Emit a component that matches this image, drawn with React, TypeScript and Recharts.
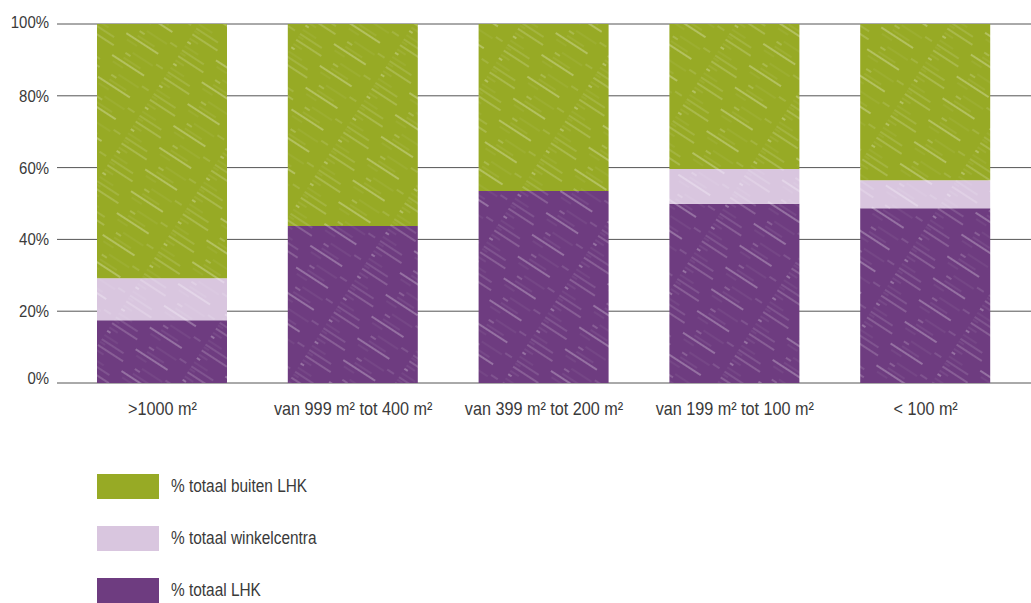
import { BarChart, Bar, XAxis, YAxis, CartesianGrid } from 'recharts';

const categories = [
    '>1000 m²',
    'van 999 m² tot 400 m²',
    'van 399 m² tot 200 m²',
    'van 199 m² tot 100 m²',
    '< 100 m²',
];
const lhk = [17.5, 43.7, 53.5, 49.9, 48.7];
const winkelcentra = [11.7, 0, 0, 9.7, 7.8];
const buitenLhk = [70.8, 56.3, 46.5, 40.4, 43.5];
const yTicks = [0, 20, 40, 60, 80, 100];

const FONT = "'Liberation Sans', Arial, sans-serif";
const TEXT = '#3a3a3a';
// no condensed face available, so squeeze the regular one
const NARROW = 0.88;

const SERIES = [
    { key: 'lhk', name: '% totaal LHK', color: '#6e3c80' },
    { key: 'winkel', name: '% totaal winkelcentra', color: '#d9c6df' },
    { key: 'buiten', name: '% totaal buiten LHK', color: '#97aa25' },
];

const data = categories.map((c, i) => ({
    name: c,
    lhk: lhk[i],
    winkel: winkelcentra[i],
    buiten: buitenLhk[i],
}));

const XTick = ({ x, y, payload }: { x?: number; y?: number; payload?: { value: string } }) => (
    <g transform={`translate(${x},${y}) scale(0.9,1)`}>
        <text textAnchor="middle" dy="0.71em" fill={TEXT} fontSize={18} fontFamily={FONT}>
            {payload?.value}
        </text>
    </g>
);

const YTick = ({ x, y, payload }: { x?: number; y?: number; payload?: { value: number } }) => {
    const v = payload?.value ?? 0;
    const shift = v === 0 ? -5 : v === 100 ? -2 : 0;
    return (
        <g transform={`translate(${x},${(y ?? 0) + shift}) scale(${NARROW},1)`}>
            <text textAnchor="end" dy="0.355em" fill={TEXT} fontSize={17} fontFamily={FONT}>
                {`${v}%`}
            </text>
        </g>
    );
};

// scratchy white streaks like the crayon texture in the original
const Scratch = ({ id, color }: { id: string; color: string }) => (
    <pattern id={id} patternUnits="userSpaceOnUse" width={90} height={26} patternTransform="rotate(33)">
        <rect width={90} height={26} fill={color} />
        <line x1={0} y1={2} x2={90} y2={2} stroke="#fff" strokeOpacity={0.5} strokeWidth={0.7} strokeDasharray="30 14 6 40" />
        <line x1={0} y1={7} x2={90} y2={7} stroke="#fff" strokeOpacity={0.25} strokeWidth={0.5} strokeDasharray="10 35 20 25" />
        <line x1={0} y1={11} x2={90} y2={11} stroke="#fff" strokeOpacity={0.6} strokeWidth={0.9} strokeDasharray="4 30 38 18" />
        <line x1={0} y1={16} x2={90} y2={16} stroke="#fff" strokeOpacity={0.2} strokeWidth={0.5} strokeDasharray="16 22 12 40" />
        <line x1={0} y1={21} x2={90} y2={21} stroke="#fff" strokeOpacity={0.4} strokeWidth={0.6} strokeDasharray="26 50 8 6" />
        <line x1={0} y1={24} x2={90} y2={24} stroke="#fff" strokeOpacity={0.2} strokeWidth={0.5} strokeDasharray="6 44 24 16" />
    </pattern>
);

export default function App() {
    return (
        <div style={{ position: 'absolute', left: 0, top: 0, width: 1031, height: 603, fontFamily: FONT }}>
            <BarChart
                width={1031}
                height={440}
                data={data}
                barSize={130}
                margin={{ top: 24, right: 0, bottom: 17, left: 0 }}
            >
                <defs>
                    {SERIES.map(s => (
                        <Scratch key={s.key} id={`tex-${s.key}`} color={s.color} />
                    ))}
                </defs>
                <CartesianGrid stroke="#555" strokeWidth={1} vertical={false} />
                <XAxis
                    dataKey="name"
                    axisLine={false}
                    tickLine={false}
                    height={40}
                    tickMargin={13}
                    padding={{ left: 10, right: 10 }}
                    interval={0}
                    tick={<XTick />}
                />
                <YAxis
                    width={57}
                    domain={[0, 100]}
                    ticks={yTicks}
                    axisLine={false}
                    tickLine={false}
                    tickMargin={2}
                    tick={<YTick />}
                />
                {SERIES.map(s => (
                    <Bar
                        key={s.key}
                        dataKey={s.key}
                        name={s.name}
                        stackId="a"
                        fill={`url(#tex-${s.key})`}
                        isAnimationActive={false}
                    />
                ))}
            </BarChart>
            <div style={{ position: 'absolute', left: 97, top: 474 }}>
                {[...SERIES].reverse().map((s, i) => (
                    <div
                        key={s.key}
                        style={{ position: 'absolute', top: i * 52, left: 0, display: 'flex', alignItems: 'center', whiteSpace: 'nowrap' }}
                    >
                        <svg width={62} height={25}>
                            <rect width={62} height={25} fill={s.color} />
                        </svg>
                        <span
                            style={{
                                marginLeft: 12,
                                fontSize: 17.5,
                                color: TEXT,
                                display: 'inline-block',
                                transform: `scaleX(${NARROW})`,
                                transformOrigin: 'left center',
                            }}
                        >
                            {s.name}
                        </span>
                    </div>
                ))}
            </div>
        </div>
    );
}
